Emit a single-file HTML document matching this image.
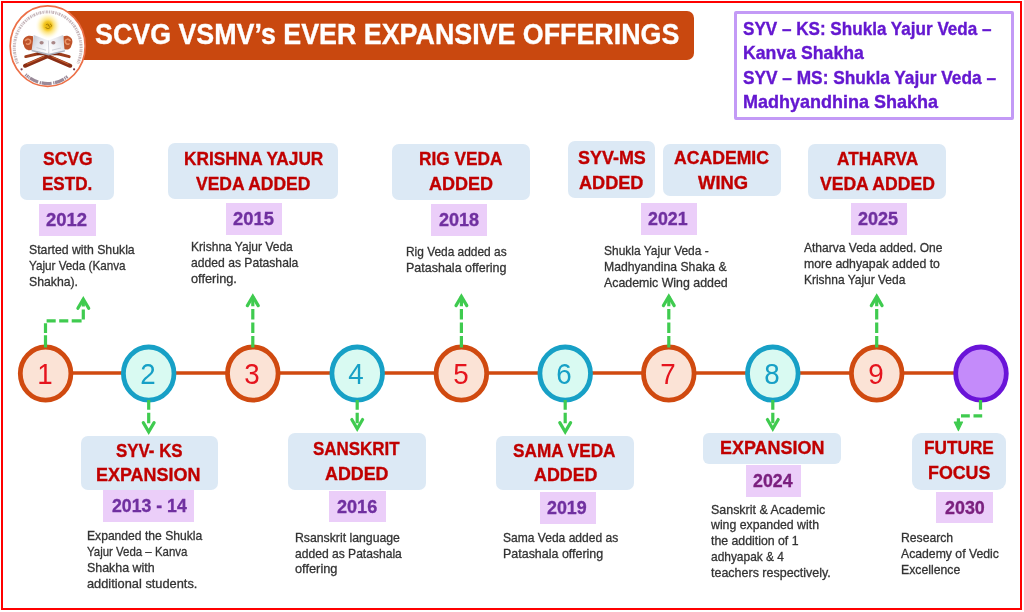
<!DOCTYPE html>
<html lang="en">
<head>
<meta charset="utf-8">
<title>SCVG VSMV’s Ever Expansive Offerings</title>
<style>

html,body{margin:0;padding:0;background:#fff;}
body{width:1024px;height:612px;position:relative;overflow:hidden;font-family:"Liberation Sans",sans-serif;}
.frame{position:absolute;left:1px;top:1px;width:1017px;height:605px;border:2.5px solid #FF0000;}
.banner{position:absolute;left:46px;top:11px;width:648px;height:48.5px;background:#C9480F;border-radius:0 7px 7px 0;}
.legend{position:absolute;left:734px;top:11px;width:274px;height:103.4px;border:3px solid #C39AF6;border-radius:2px;background:#fff;}
.lb{position:absolute;background:#DCE9F5;}
.bg{position:absolute;background:#EBCEF9;}
.t{position:absolute;margin:0;white-space:pre;transform-origin:0 50%;}
svg{position:absolute;left:0;top:0;overflow:visible;}
.num{width:30px;text-align:center;transform:scaleX(0.94);transform-origin:50% 50%;}
.dsc{-webkit-text-stroke:0.3px currentColor;}
.lab,.yr,.leg,.title{-webkit-text-stroke:0.35px currentColor;}
.title{font-size:29px;line-height:34.8px;font-weight:700;color:#fff;}
.leg{font-size:18.5px;line-height:22.2px;font-weight:700;color:#6418D0;}
.lab{font-size:19px;line-height:22.8px;font-weight:700;color:#C00000;}
.yr{font-size:19px;line-height:22.8px;font-weight:700;color:#7030A0;}
.dsc{font-size:13px;line-height:15.6px;font-weight:400;color:#333333;}
.num{font-size:29.5px;line-height:35.4px;font-weight:400;color:#E5141E;}
</style>
</head>
<body>
<div class="frame"></div>
<header>
<div class="banner"></div>
<svg id="logo" width="100" height="100" viewBox="0 0 100 100" role="img" aria-label="SCVG emblem">
<defs>
<radialGradient id="sun" cx="50%" cy="50%" r="50%">
<stop offset="0" stop-color="#E0AE0A"/><stop offset="0.3" stop-color="#F3C51F"/><stop offset="0.48" stop-color="#FCE27A"/><stop offset="0.75" stop-color="#FFF6CC" stop-opacity="0.85"/><stop offset="1" stop-color="#FFFDF0" stop-opacity="0"/>
</radialGradient>
<linearGradient id="pgL" x1="0" y1="0" x2="1" y2="0.6"><stop offset="0" stop-color="#BFC3CE"/><stop offset="0.45" stop-color="#E4E6EC"/><stop offset="1" stop-color="#FBFBFD"/></linearGradient>
<linearGradient id="pgR" x1="1" y1="0" x2="0" y2="0.6"><stop offset="0" stop-color="#C9CCD6"/><stop offset="0.45" stop-color="#E9EAF0"/><stop offset="1" stop-color="#FDFDFE"/></linearGradient>
<filter id="soft" x="-10%" y="-10%" width="120%" height="120%"><feGaussianBlur stdDeviation="0.35"/></filter>
</defs>
<ellipse cx="47.7" cy="46.1" rx="37.5" ry="40.2" fill="#fff" stroke="#EC7048" stroke-width="1.7"/>
<g filter="url(#soft)">
<path d="M17.6 63.5A33.4 36 0 1 1 77.8 63.5" fill="none" stroke="#7A5560" stroke-opacity="0.42" stroke-width="3" stroke-dasharray="1.4 0.8 0.8 0.7 1.8 1"/>
<path d="M25.6 74.5A33.4 36 0 0 0 69.8 74.5" fill="none" stroke="#6A5468" stroke-opacity="0.68" stroke-width="3.2" stroke-dasharray="1.2 0.7 1.6 0.6 0.9 0.7 9 1.6 1.4 0.6 10 1.6 1.2 0.6 9.5 0.8 1.2 0.7 1.6 40"/>
<circle cx="21.6" cy="69.3" r="1.1" fill="#7A3A48"/><circle cx="74.1" cy="69.3" r="1.1" fill="#7A3A48"/>
<!-- wooden stand -->
<g stroke-linecap="round" fill="none">
<path d="M25.8 56.6L38 53.8" stroke="#9C3C1A" stroke-width="3"/>
<path d="M69.2 56.6L58 53.8" stroke="#9C3C1A" stroke-width="3"/>
<path d="M25 65.8L47.5 56.2L70.3 65.8" stroke="#8A2F14" stroke-width="4" stroke-linejoin="round"/>
<path d="M27 63.9L44 56.6" stroke="#C05A2E" stroke-width="1.1"/>
<path d="M68.3 63.9L52 56.8" stroke="#C05A2E" stroke-width="1.1"/>
<path d="M38 53.6L58 53.6" stroke="#7C2A12" stroke-width="3.2"/>
</g>
<!-- covers -->
<path d="M25 37.6C22.6 39.3 22.3 43.2 24 45.6C24.2 48.4 27 50.6 30 50.3L33.6 49.4L33 36.3C30 35.3 26.6 35.8 25 37.6Z" fill="#BE5229"/>
<path d="M70.6 37.6C72.8 39.3 73 43 71.4 45.4C71.2 48 68.6 49.8 65.8 49.6L63 49L63.4 36.3C66 35.3 69 35.8 70.6 37.6Z" fill="#BE5229"/>
<path d="M25.5 40.5C27 38.5 30 38.8 30.6 41C31 43.4 28.4 45 26.6 43.8" fill="none" stroke="#E99468" stroke-width="1.6" stroke-linecap="round"/>
<path d="M70 40.5C68.6 38.5 65.8 38.8 65.3 41C65 43.4 67.4 45 69 43.8" fill="none" stroke="#E99468" stroke-width="1.6" stroke-linecap="round"/>
<!-- pages -->
<path d="M31.4 51.2L48.8 55.6L65 51.4L64.6 49.4L48.8 53L31.7 49.3Z" fill="#AEB2BE"/>
<path d="M33.7 35L48.4 40.6L48.9 53.8L31.7 49.8Z" fill="url(#pgL)"/>
<path d="M63.1 35L48.4 40.6L48.9 53.8L64.6 50.2Z" fill="url(#pgR)"/>
<path d="M48.4 40.6L48.9 53.8" stroke="#B8BBC6" stroke-width="0.6"/>
<ellipse cx="41.6" cy="42.8" rx="2.1" ry="1.7" fill="#8A5A58" fill-opacity="0.7"/>
<ellipse cx="53.4" cy="42.8" rx="2.1" ry="1.7" fill="#8A5A58" fill-opacity="0.7"/>
<path d="M36.5 47.6L46 50.2M52 50.2L61 48" stroke="#C4C6CF" stroke-width="0.8"/>
</g>
<!-- sun -->
<ellipse cx="47.9" cy="25.8" rx="12.6" ry="13.2" fill="url(#sun)"/>
<path d="M46.2 24.6c1.4-1 3-.2 2.2 1.1c2-.2 2.400 2.300 .2 2.800c-1.200 .3-2.400-.2-2.800-1M50.300 24.200c.9 .2 1.500 .9 1.300 1.900" fill="none" stroke="#9A7400" stroke-width="0.9" stroke-linecap="round" filter="url(#soft)"/>
</svg>

<h1 id="title" class="t title" style="left:95px;top:17px;transform:scaleX(0.9250);">SCVG VSMV’s EVER EXPANSIVE OFFERINGS</h1>
</header>
<aside>
<div class="legend"></div>
<span id="leg0" class="t leg" style="left:743px;top:18px;transform:scaleX(0.9237);">SYV – KS: Shukla Yajur Veda –</span>
<span id="leg1" class="t leg" style="left:743px;top:42px;transform:scaleX(0.9555);">Kanva Shakha</span>
<span id="leg2" class="t leg" style="left:743px;top:67px;transform:scaleX(0.9332);">SYV – MS: Shukla Yajur Veda –</span>
<span id="leg3" class="t leg" style="left:743px;top:91px;transform:scaleX(0.9730);">Madhyandhina Shakha</span>
</aside>
<main>
<svg id="tl" width="1024" height="612" viewBox="0 0 1024 612">
<line x1="45.6" y1="373" x2="981.0" y2="373" stroke="#D04A10" stroke-width="3.6"/>
<ellipse cx="45.6" cy="373.6" rx="25.3" ry="26.6" fill="#FBE3D6" stroke="#D04A10" stroke-width="4.8"/>
<ellipse cx="148.7" cy="373.6" rx="25.3" ry="26.6" fill="#D9FAF2" stroke="#17A0C6" stroke-width="4.8"/>
<ellipse cx="252.8" cy="373.6" rx="25.3" ry="26.6" fill="#FBE3D6" stroke="#D04A10" stroke-width="4.8"/>
<ellipse cx="357.2" cy="373.6" rx="25.3" ry="26.6" fill="#D9FAF2" stroke="#17A0C6" stroke-width="4.8"/>
<ellipse cx="461.4" cy="373.6" rx="25.3" ry="26.6" fill="#FBE3D6" stroke="#D04A10" stroke-width="4.8"/>
<ellipse cx="565.2" cy="373.6" rx="25.3" ry="26.6" fill="#D9FAF2" stroke="#17A0C6" stroke-width="4.8"/>
<ellipse cx="668.8" cy="373.6" rx="25.3" ry="26.6" fill="#FBE3D6" stroke="#D04A10" stroke-width="4.8"/>
<ellipse cx="772.8" cy="373.6" rx="25.3" ry="26.6" fill="#D9FAF2" stroke="#17A0C6" stroke-width="4.8"/>
<ellipse cx="876.7" cy="373.6" rx="25.3" ry="26.6" fill="#FBE3D6" stroke="#D04A10" stroke-width="4.8"/>
<ellipse cx="981.0" cy="373.6" rx="25.3" ry="26.6" fill="#C48BFA" stroke="#6A14D8" stroke-width="4.8"/>
<g id="arrows">
<path d="M45.50 347.40V335.30M45.50 333.00V323.30" fill="none" stroke="#3FCB4F" stroke-width="3.2"/><path d="M46.60 320.80H55.70M59.20 320.80H68.30M71.70 320.80H81.60" fill="none" stroke="#3FCB4F" stroke-width="3.2"/><path d="M83.30 319.60V309.60M83.30 306.60V299.00" fill="none" stroke="#3FCB4F" stroke-width="3.2"/><path d="M77.90 308.26L83.30 299.06L88.70 308.26" fill="none" stroke="#3FCB4F" stroke-width="3.2" stroke-linecap="round" stroke-linejoin="miter" stroke-miterlimit="6"/>
<path d="M252.80 347.40V336.00M252.80 333.00V322.40M252.80 319.40V309.00M252.80 306.30V296.30" fill="none" stroke="#3FCB4F" stroke-width="3.2"/><path d="M247.40 305.66L252.80 296.46L258.20 305.66" fill="none" stroke="#3FCB4F" stroke-width="3.2" stroke-linecap="round" stroke-linejoin="miter" stroke-miterlimit="6"/>
<path d="M461.40 347.40V336.00M461.40 333.00V322.40M461.40 319.40V309.00M461.40 306.30V296.30" fill="none" stroke="#3FCB4F" stroke-width="3.2"/><path d="M456.00 305.66L461.40 296.46L466.80 305.66" fill="none" stroke="#3FCB4F" stroke-width="3.2" stroke-linecap="round" stroke-linejoin="miter" stroke-miterlimit="6"/>
<path d="M668.80 347.40V336.00M668.80 333.00V322.40M668.80 319.40V309.00M668.80 306.30V296.30" fill="none" stroke="#3FCB4F" stroke-width="3.2"/><path d="M663.40 305.66L668.80 296.46L674.20 305.66" fill="none" stroke="#3FCB4F" stroke-width="3.2" stroke-linecap="round" stroke-linejoin="miter" stroke-miterlimit="6"/>
<path d="M876.70 347.40V336.00M876.70 333.00V322.40M876.70 319.40V309.00M876.70 306.30V296.30" fill="none" stroke="#3FCB4F" stroke-width="3.2"/><path d="M871.30 305.66L876.70 296.46L882.10 305.66" fill="none" stroke="#3FCB4F" stroke-width="3.2" stroke-linecap="round" stroke-linejoin="miter" stroke-miterlimit="6"/>
<path d="M148.70 400.00V409.80M148.70 412.80V423.20" fill="none" stroke="#3FCB4F" stroke-width="3.2"/><path d="M143.30 422.64L148.70 431.84L154.10 422.64" fill="none" stroke="#3FCB4F" stroke-width="3.2" stroke-linecap="round" stroke-linejoin="miter" stroke-miterlimit="6"/>
<path d="M357.20 400.00V409.80M357.20 412.80V423.20" fill="none" stroke="#3FCB4F" stroke-width="3.2"/><path d="M351.80 419.54L357.20 428.74L362.60 419.54" fill="none" stroke="#3FCB4F" stroke-width="3.2" stroke-linecap="round" stroke-linejoin="miter" stroke-miterlimit="6"/>
<path d="M565.20 400.00V409.80M565.20 412.80V423.20" fill="none" stroke="#3FCB4F" stroke-width="3.2"/><path d="M559.80 422.64L565.20 431.84L570.60 422.64" fill="none" stroke="#3FCB4F" stroke-width="3.2" stroke-linecap="round" stroke-linejoin="miter" stroke-miterlimit="6"/>
<path d="M772.80 400.00V409.80M772.80 412.80V423.20" fill="none" stroke="#3FCB4F" stroke-width="3.2"/><path d="M767.40 419.54L772.80 428.74L778.20 419.54" fill="none" stroke="#3FCB4F" stroke-width="3.2" stroke-linecap="round" stroke-linejoin="miter" stroke-miterlimit="6"/>
<path d="M980.50 400.00V409.70" fill="none" stroke="#3FCB4F" stroke-width="3.2"/><path d="M973.50 415.80H982.20M961.00 415.80H969.80" fill="none" stroke="#3FCB4F" stroke-width="3.2"/><path d="M958.40 418.30V426.00" fill="none" stroke="#3FCB4F" stroke-width="3.2"/>
<path d="M954.3 422L958.4 430.6L962.5 422Z" fill="#3FCB4F" stroke="#3FCB4F" stroke-width="1.2" stroke-linejoin="round"/>
</g>
</svg>
<span id="n1" class="t num" style="left:29.7px;top:356px;">1</span>
<span id="n2" class="t num" style="left:132.8px;top:356px;color:#17A0C6;">2</span>
<span id="n3" class="t num" style="left:236.9px;top:356px;">3</span>
<span id="n4" class="t num" style="left:341.3px;top:356px;color:#17A0C6;">4</span>
<span id="n5" class="t num" style="left:445.5px;top:356px;">5</span>
<span id="n6" class="t num" style="left:549.3px;top:356px;color:#17A0C6;">6</span>
<span id="n7" class="t num" style="left:652.9px;top:356px;">7</span>
<span id="n8" class="t num" style="left:756.9px;top:356px;color:#17A0C6;">8</span>
<span id="n9" class="t num" style="left:860.8px;top:356px;">9</span>
<section id="m1">
<div class="lb" style="left:20.0px;top:144.0px;width:93.8px;height:56.0px;border-radius:7px;"></div>
<span id="m1_l0" class="t lab" style="left:43px;top:148px;transform:scaleX(0.9227);">SCVG</span>
<span id="m1_l1" class="t lab" style="left:42px;top:173px;transform:scaleX(0.8971);">ESTD.</span>
<div class="bg" style="left:39.0px;top:203.7px;width:56.6px;height:32.0px;"></div>
<span id="m1_y" class="t yr" style="left:46px;top:209px;transform:scaleX(0.9724);">2012</span>
<span id="m1_d0" class="t dsc" style="left:29px;top:242px;transform:scaleX(0.9436);">Started with Shukla</span>
<span id="m1_d1" class="t dsc" style="left:29px;top:258px;transform:scaleX(0.8993);">Yajur Veda (Kanva</span>
<span id="m1_d2" class="t dsc" style="left:29px;top:274px;transform:scaleX(0.9416);">Shakha).</span>
</section>
<section id="m3">
<div class="lb" style="left:168.0px;top:143.0px;width:170.0px;height:56.3px;border-radius:7px;"></div>
<span id="m3_l0" class="t lab" style="left:184px;top:148px;transform:scaleX(0.9080);">KRISHNA YAJUR</span>
<span id="m3_l1" class="t lab" style="left:196px;top:173px;transform:scaleX(0.9204);">VEDA ADDED</span>
<div class="bg" style="left:225.8px;top:203.2px;width:56.0px;height:31.8px;"></div>
<span id="m3_y" class="t yr" style="left:233px;top:208px;transform:scaleX(0.9682);">2015</span>
<span id="m3_d0" class="t dsc" style="left:191px;top:239px;transform:scaleX(0.9245);">Krishna Yajur Veda</span>
<span id="m3_d1" class="t dsc" style="left:191px;top:255px;transform:scaleX(0.9339);">added as Patashala</span>
<span id="m3_d2" class="t dsc" style="left:191px;top:271px;transform:scaleX(0.9824);">offering.</span>
</section>
<section id="m5">
<div class="lb" style="left:392.0px;top:143.8px;width:138.0px;height:56.2px;border-radius:7px;"></div>
<span id="m5_l0" class="t lab" style="left:419px;top:148px;transform:scaleX(0.9086);">RIG VEDA</span>
<span id="m5_l1" class="t lab" style="left:429px;top:173px;transform:scaleX(0.9463);">ADDED</span>
<div class="bg" style="left:430.8px;top:203.7px;width:56.7px;height:32.0px;"></div>
<span id="m5_y" class="t yr" style="left:439px;top:209px;transform:scaleX(0.9502);">2018</span>
<span id="m5_d0" class="t dsc" style="left:406px;top:244px;transform:scaleX(0.9156);">Rig Veda added as</span>
<span id="m5_d1" class="t dsc" style="left:406px;top:260px;transform:scaleX(0.9614);">Patashala offering</span>
</section>
<section id="m7a">
<div class="lb" style="left:567.5px;top:141.3px;width:87.5px;height:56.7px;border-radius:7px;"></div>
<span id="m7a_l0" class="t lab" style="left:578px;top:147px;transform:scaleX(0.9444);">SYV-MS</span>
<span id="m7a_l1" class="t lab" style="left:579px;top:172px;transform:scaleX(0.9538);">ADDED</span>
<div class="bg" style="left:640.5px;top:202.5px;width:56.5px;height:32.5px;"></div>
<span id="m7a_y" class="t yr" style="left:648px;top:208px;transform:scaleX(0.9356);">2021</span>
<span id="m7a_d0" class="t dsc" style="left:604px;top:243px;transform:scaleX(0.9213);">Shukla Yajur Veda -</span>
<span id="m7a_d1" class="t dsc" style="left:604px;top:259px;transform:scaleX(0.9366);">Madhyandina Shaka &</span>
<span id="m7a_d2" class="t dsc" style="left:604px;top:275px;transform:scaleX(0.9507);">Academic Wing added</span>
</section>
<section id="m7b">
<div class="lb" style="left:662.5px;top:143.8px;width:118.8px;height:52.5px;border-radius:7px;"></div>
<span id="m7b_l0" class="t lab" style="left:674px;top:147px;transform:scaleX(0.9279);">ACADEMIC</span>
<span id="m7b_l1" class="t lab" style="left:698px;top:172px;transform:scaleX(0.9689);">WING</span>
</section>
<section id="m9">
<div class="lb" style="left:808.0px;top:143.8px;width:138.0px;height:55.5px;border-radius:7px;"></div>
<span id="m9_l0" class="t lab" style="left:837px;top:148px;transform:scaleX(0.9048);">ATHARVA</span>
<span id="m9_l1" class="t lab" style="left:820px;top:173px;transform:scaleX(0.9244);">VEDA ADDED</span>
<div class="bg" style="left:851.0px;top:202.5px;width:55.8px;height:32.5px;"></div>
<span id="m9_y" class="t yr" style="left:858px;top:208px;transform:scaleX(0.9490);">2025</span>
<span id="m9_d0" class="t dsc" style="left:804px;top:240px;transform:scaleX(0.9251);">Atharva Veda added. One</span>
<span id="m9_d1" class="t dsc" style="left:804px;top:256px;transform:scaleX(0.9450);">more adhyapak added to</span>
<span id="m9_d2" class="t dsc" style="left:804px;top:272px;transform:scaleX(0.9200);">Krishna Yajur Veda</span>
</section>
<section id="m2">
<div class="lb" style="left:80.8px;top:436.3px;width:137.2px;height:53.6px;border-radius:7px;"></div>
<span id="m2_l0" class="t lab" style="left:116px;top:440px;transform:scaleX(0.8878);">SYV- KS</span>
<span id="m2_l1" class="t lab" style="left:96px;top:464px;transform:scaleX(0.9445);">EXPANSION</span>
<div class="bg" style="left:103.3px;top:490.3px;width:91.2px;height:31.7px;"></div>
<span id="m2_y" class="t yr" style="left:112px;top:495px;transform:scaleX(0.9308);">2013 - 14</span>
<span id="m2_d0" class="t dsc" style="left:87px;top:528px;transform:scaleX(0.9323);">Expanded the Shukla</span>
<span id="m2_d1" class="t dsc" style="left:87px;top:544px;transform:scaleX(0.8810);">Yajur Veda – Kanva</span>
<span id="m2_d2" class="t dsc" style="left:87px;top:560px;transform:scaleX(0.9562);">Shakha with</span>
<span id="m2_d3" class="t dsc" style="left:87px;top:576px;transform:scaleX(0.9851);">additional students.</span>
</section>
<section id="m4">
<div class="lb" style="left:288.0px;top:433.0px;width:138.3px;height:56.5px;border-radius:7px;"></div>
<span id="m4_l0" class="t lab" style="left:313px;top:438px;transform:scaleX(0.8926);">SANSKRIT</span>
<span id="m4_l1" class="t lab" style="left:325px;top:463px;transform:scaleX(0.9388);">ADDED</span>
<div class="bg" style="left:328.8px;top:491.3px;width:57.0px;height:31.2px;"></div>
<span id="m4_y" class="t yr" style="left:337px;top:496px;transform:scaleX(0.9518);">2016</span>
<span id="m4_d0" class="t dsc" style="left:295px;top:530px;transform:scaleX(0.9429);">Rsanskrit language</span>
<span id="m4_d1" class="t dsc" style="left:295px;top:546px;transform:scaleX(0.9295);">added as Patashala</span>
<span id="m4_d2" class="t dsc" style="left:295px;top:561px;transform:scaleX(0.9845);">offering</span>
</section>
<section id="m6">
<div class="lb" style="left:496.3px;top:436.3px;width:137.5px;height:53.7px;border-radius:7px;"></div>
<span id="m6_l0" class="t lab" style="left:513px;top:440px;transform:scaleX(0.9047);">SAMA VEDA</span>
<span id="m6_l1" class="t lab" style="left:534px;top:464px;transform:scaleX(0.9388);">ADDED</span>
<div class="bg" style="left:539.5px;top:491.8px;width:56.0px;height:32.0px;"></div>
<span id="m6_y" class="t yr" style="left:547px;top:497px;transform:scaleX(0.9398);">2019</span>
<span id="m6_d0" class="t dsc" style="left:503px;top:530px;transform:scaleX(0.9266);">Sama Veda added as</span>
<span id="m6_d1" class="t dsc" style="left:503px;top:546px;transform:scaleX(0.9585);">Patashala offering</span>
</section>
<section id="m8">
<div class="lb" style="left:703.0px;top:433.0px;width:137.8px;height:30.8px;border-radius:6px;"></div>
<span id="m8_l0" class="t lab" style="left:720px;top:437px;transform:scaleX(0.9445);">EXPANSION</span>
<div class="bg" style="left:745.5px;top:465.0px;width:55.8px;height:32.0px;"></div>
<span id="m8_y" class="t yr" style="left:753px;top:470px;transform:scaleX(0.9348);color:#7B207F;">2024</span>
<span id="m8_d0" class="t dsc" style="left:711px;top:502px;transform:scaleX(0.9574);">Sanskrit &amp; Academic</span>
<span id="m8_d1" class="t dsc" style="left:711px;top:517px;transform:scaleX(0.9455);">wing expanded with</span>
<span id="m8_d2" class="t dsc" style="left:711px;top:533px;transform:scaleX(0.9460);">the addition of 1</span>
<span id="m8_d3" class="t dsc" style="left:711px;top:549px;transform:scaleX(0.9177);">adhyapak &amp; 4</span>
<span id="m8_d4" class="t dsc" style="left:711px;top:565px;transform:scaleX(0.9606);">teachers respectively.</span>
</section>
<section id="m10">
<div class="lb" style="left:912.3px;top:432.5px;width:94.0px;height:57.0px;border-radius:9px;"></div>
<span id="m10_l0" class="t lab" style="left:924px;top:437px;transform:scaleX(0.9059);">FUTURE</span>
<span id="m10_l1" class="t lab" style="left:928px;top:462px;transform:scaleX(0.9378);">FOCUS</span>
<div class="bg" style="left:936.3px;top:492.0px;width:57.2px;height:31.3px;"></div>
<span id="m10_y" class="t yr" style="left:945px;top:497px;transform:scaleX(0.9407);color:#7B207F;">2030</span>
<span id="m10_d0" class="t dsc" style="left:901px;top:530px;transform:scaleX(0.9372);">Research</span>
<span id="m10_d1" class="t dsc" style="left:901px;top:546px;transform:scaleX(0.9401);">Academy of Vedic</span>
<span id="m10_d2" class="t dsc" style="left:901px;top:562px;transform:scaleX(0.9421);">Excellence</span>
</section>
</main>
</body>
</html>
